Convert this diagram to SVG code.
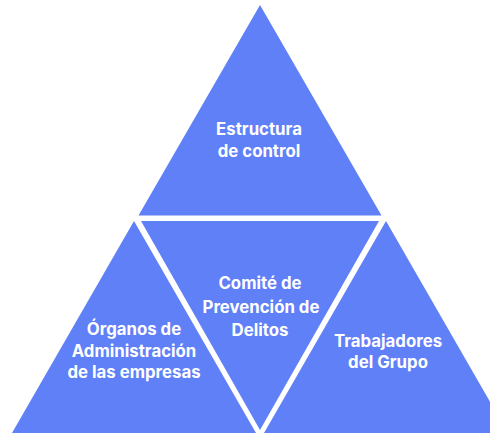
<svg xmlns="http://www.w3.org/2000/svg" width="490" height="433" viewBox="0 0 490 433">
<style>
.tri{fill:#6080F8}
.lbl{font-family:Inter,"Liberation Sans",sans-serif;font-weight:700;font-size:16.8px;fill:#fff;text-anchor:middle}
</style>
<rect width="490" height="433" fill="#fff"/>
<g id="top">
<polygon class="tri" points="260,5 381.5,215.5 138.5,215.5"/>
<text class="lbl" x="259" y="135">Estructura</text>
<text class="lbl" x="259" y="157">de control</text>
</g>
<g id="middle">
<polygon class="tri" points="141,221 379,221 260,430"/>
<text class="lbl" x="260" y="289">Comité de</text>
<text class="lbl" x="261" y="312.5">Prevención de</text>
<text class="lbl" x="260" y="336">Delitos</text>
</g>
<g id="left">
<polygon class="tri" points="134,221 256,433 12,433"/>
<text class="lbl" x="134" y="335">Órganos de</text>
<text class="lbl" x="134" y="356.5">Administración</text>
<text class="lbl" x="134" y="378">de las empresas</text>
</g>
<g id="right">
<polygon class="tri" points="386,221 508,433 264,433"/>
<text class="lbl" x="388" y="346.5">Trabajadores</text>
<text class="lbl" x="388" y="367.5">del Grupo</text>
</g>
<g id="connectors"/>
</svg>
